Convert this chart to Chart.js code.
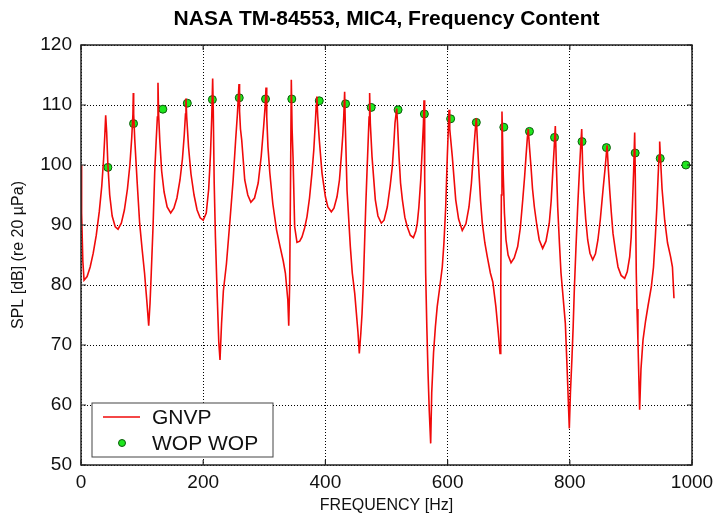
<!DOCTYPE html>

<html>
  <head>
    <title>NASA TM-84553, MIC4 - frequency content</title>

    <script src="https://cdn.jsdelivr.net/npm/chart.js@^4"></script>

    <style>
      body {
        margin: 0;
        background: white;
      }
    </style>
  </head>
  <body>
    <canvas id="graph-spl" width="715" height="518"></canvas>

    <script>
      const chartTitle = "NASA TM-84553, MIC4, Frequency Content"
      const xTitle = "FREQUENCY [Hz]"
      const yTitle = "SPL [dB] (re 20 µPa)"

      const xLimits = [0, 1000]
      const yLimits = [50, 120]
      const xStep = 200
      const yStep = 10

      // GNVP prediction, [frequency Hz, SPL dB]
      const gnvp = [
        [0, 100], [1, 92], [3, 84], [5, 80.8], [10, 81.4], [15, 83], [20, 85.3], [25, 88.3],
        [30, 92.3], [34, 96.5], [37, 101], [39, 105], [40.4, 108.3], [42, 105.5], [44, 100],
        [47, 95], [51, 91.5], [56, 89.7], [60.6, 89.3], [66, 90.3], [71, 92.5], [76, 96],
        [80, 100], [83, 104.5], [85, 108.5], [85.6, 112], [86.2, 108.5], [88, 104.2], [92, 97],
        [96, 90.3], [100, 86], [104, 82], [108, 77], [110.8, 73.2], [113, 77], [115, 82],
        [118, 90], [120.6, 98.7], [123, 104], [125, 108], [126, 113.7], [127, 108.5], [129, 104],
        [132, 99], [136, 95.5], [141, 93], [146.8, 92], [152, 92.8], [157, 94.5], [162, 97.5],
        [166, 101], [169, 105], [171, 108.5], [171.8, 111.1], [173, 108], [176, 103], [180, 98.5],
        [185, 95], [190, 92.5], [195, 91.2], [200, 90.8], [205, 92], [209, 96], [212, 102],
        [214, 108], [215.5, 114.4], [216.5, 109], [218, 97], [220, 88], [223, 78], [225.5, 70.5],
        [227.5, 67.5], [230, 73.5], [233, 79], [238, 83.5], [244, 91], [249, 97.5], [253, 104],
        [256, 108.5], [258.6, 113.5], [259.5, 109], [261, 106], [263, 104.2], [268, 97.5],
        [273, 95], [278, 93.8], [284, 94.5], [290, 97], [295, 101.5], [299, 106.5], [301.5, 110],
        [302.8, 112.9], [304, 108], [306, 103], [309, 98.7], [314, 93.5], [320, 89.2], [326, 86.3],
        [331, 84], [334.5, 82], [338.5, 77.5], [340, 73.2], [341.5, 80], [343, 98], [344.2, 114.2],
        [345.5, 106], [347, 101.4], [349.7, 89.7], [353.5, 87.1], [358, 87.3], [361.7, 88],
        [366, 89.5], [369.9, 91.4], [374, 94.5], [378, 98.7], [381, 102.5], [383.5, 107],
        [385, 110], [386, 111.4], [387.5, 108], [390, 104.2], [394.4, 98.7], [400, 94.7],
        [404, 93], [409.7, 92.2], [414, 92.8], [419, 94.7], [423, 97.5], [426, 101.4],
        [428.5, 105], [430, 108], [431.5, 112.2], [432.5, 107], [435.4, 95.8], [440.8, 86.4],
        [444, 82], [448, 78.6], [453.4, 72], [455.5, 68.6], [458, 72], [460, 75.3], [462, 80],
        [464.3, 87.5], [466, 93], [468, 98.6], [470, 104], [471.5, 108], [472.4, 112],
        [473.5, 107], [476.3, 101.4], [481.7, 94.2], [486, 91.5], [491.5, 90.3], [496, 90.8],
        [501.3, 93], [506, 96.5], [509.5, 99.7], [512, 103.5], [513.9, 107], [516.7, 109.4],
        [518, 107], [520.5, 101.4], [523, 97], [526, 94.2], [530, 91.3], [534, 89.7], [539, 88.3],
        [544, 87.9], [548, 89], [550.4, 90.3], [553, 93], [556, 97.5], [559.2, 104.2], [560.5, 107],
        [561.4, 110.8], [562.5, 98], [564.1, 82], [566, 73], [568, 65.3], [570, 59], [572.3, 53.6],
        [574, 62], [577, 68.7], [580, 73], [583, 76.4], [587, 79.5], [591.3, 83], [594, 87],
        [596.9, 93], [599.5, 101.4], [601, 105.5], [602.3, 109.2], [603.5, 106], [607.7, 101.4],
        [613.3, 94.2], [618, 91], [624, 89.1], [630, 90.2], [635, 93], [639, 97], [642, 101.4],
        [645, 105.5], [647, 107.8], [649, 103.5], [651.4, 98.6], [654, 94], [656.8, 90.3],
        [661, 87], [665, 84.7], [670, 82], [674, 80.5], [679, 76.4], [683, 72], [685.8, 68.6],
        [687, 80], [688, 95], [689, 108.9], [690, 104], [691, 98.6], [693, 92], [695.6, 87.5],
        [699, 85], [703.8, 83.7], [709, 84.5], [714.7, 86.4], [719, 89.5], [723, 94.2], [726, 98],
        [728.3, 101.4], [730.5, 104.5], [732, 106], [734, 103], [736.5, 99.7], [739, 96],
        [742, 93], [746, 90], [750, 87.5], [755.6, 86.1], [761, 87.3], [766.4, 90.3], [769.5, 94],
        [772, 98.6], [774.5, 103], [776.3, 106.5], [778, 100], [780.2, 93], [783, 87],
        [785.6, 82], [789, 78], [792.7, 73.6], [796, 65], [799.2, 56.1], [801, 62], [803.6, 68],
        [805.5, 73], [807.4, 79.2], [810, 86], [812.9, 93], [815.5, 98.5], [817.5, 102.5],
        [819.5, 106], [821, 100], [822.7, 95.8], [826, 91], [829.3, 87.5], [833, 85.3],
        [837.5, 84.2], [842, 85.2], [846, 87.5], [850, 91], [854.3, 95.8], [858, 99.7],
        [861, 103.3], [863, 99.5], [865.3, 95.8], [868, 92], [870.7, 88.6], [875, 85.5],
        [878.9, 83], [884, 81.6], [889.8, 81.1], [894, 82.2], [898, 84.7], [900.5, 88],
        [902.4, 93], [904.5, 99], [906.2, 105.4], [907.2, 98], [908.8, 82], [910, 76],
        [911.5, 70.8], [914.3, 59.2], [916.5, 66], [919.8, 70.8], [924, 74], [928, 76.5],
        [933.4, 79.7], [937, 83], [940, 88], [942.5, 93], [944.5, 98], [946, 101.5],
        [947.1, 103.9], [948.5, 101], [951, 96], [955.3, 90.8], [960, 87], [965, 84.7],
        [968, 83], [970.5, 77.8],
      ]

      // WOP WOP tones at the blade passage harmonics
      const wopHz = [
        44, 86, 134, 174, 215, 259, 302, 345, 390, 433, 475, 519,
        562, 605, 647, 692, 734, 775, 820, 860, 907, 948, 990,
      ]
      const wopSpl = [
        99.6, 106.9, 109.3, 110.3, 110.9, 111.2, 111.0, 111.0, 110.7, 110.2, 109.6, 109.2,
        108.5, 107.7, 107.1, 106.3, 105.6, 104.6, 103.9, 102.9, 102.0, 101.1, 100.0,
      ]

      const font = "'Liberation Sans', Arial, Helvetica, sans-serif"

      // frame, inward tick marks, title and the boxed legend, matlab style
      const matlabDecor = {
        id: "matlabDecor",
        afterDraw(chart) {
          const { ctx, chartArea: area, scales } = chart
          ctx.save()

          ctx.strokeStyle = "#222"
          ctx.lineWidth = 1.2
          ctx.setLineDash([])
          ctx.beginPath()
          scales.x.ticks.forEach(t => {
            const px = scales.x.getPixelForValue(t.value)
            ctx.moveTo(px, area.bottom); ctx.lineTo(px, area.bottom - 5)
            ctx.moveTo(px, area.top); ctx.lineTo(px, area.top + 5)
          })
          scales.y.ticks.forEach(t => {
            const py = scales.y.getPixelForValue(t.value)
            ctx.moveTo(area.left, py); ctx.lineTo(area.left + 5, py)
            ctx.moveTo(area.right, py); ctx.lineTo(area.right - 5, py)
          })
          ctx.stroke()
          ctx.lineWidth = 1.5
          ctx.strokeRect(area.left, area.top, area.right - area.left, area.bottom - area.top)

          ctx.fillStyle = "#000"
          ctx.font = `bold 21px ${font}`
          ctx.textAlign = "center"
          ctx.textBaseline = "middle"
          ctx.fillText(chartTitle, (area.left + area.right) / 2, 19)

          // legend box, lower left of the plot
          const box = { x: area.left + 11, y: area.bottom - 62, w: 181, h: 54 }
          ctx.fillStyle = "white"
          ctx.fillRect(box.x, box.y, box.w, box.h)
          ctx.strokeStyle = "#444"
          ctx.lineWidth = 1
          ctx.strokeRect(box.x, box.y, box.w, box.h)

          ctx.font = `21px ${font}`
          ctx.textAlign = "left"
          chart.data.datasets.forEach((ds, i) => {
            const cy = box.y + 14 + i * 26
            if (ds.showLine) {
              ctx.strokeStyle = ds.borderColor
              ctx.lineWidth = ds.borderWidth
              ctx.beginPath()
              ctx.moveTo(box.x + 11, cy)
              ctx.lineTo(box.x + 48, cy)
              ctx.stroke()
            } else {
              ctx.fillStyle = ds.pointBackgroundColor
              ctx.strokeStyle = ds.pointBorderColor
              ctx.lineWidth = 1
              ctx.beginPath()
              ctx.arc(box.x + 30, cy, 3.5, 0, Math.PI * 2)
              ctx.fill()
              ctx.stroke()
            }
            ctx.fillStyle = "#111"
            ctx.fillText(ds.label, box.x + 60, cy + 1)
          })

          ctx.restore()
        },
      }

      new Chart(document.getElementById("graph-spl"), {
        type: "scatter",
        data: {
          datasets: [
            {
              label: "GNVP",
              data: gnvp.map(([hz, spl]) => ({ x: hz, y: spl })),
              showLine: true,
              borderColor: "#f00a0a",
              borderWidth: 1.6,
              pointRadius: 0,
              tension: 0,
            },
            {
              label: "WOP WOP",
              data: wopHz.map((hz, i) => ({ x: hz, y: wopSpl[i] })),
              showLine: false,
              pointRadius: 4,
              pointBackgroundColor: "#1ee61e",
              pointBorderColor: "#0c5a0c",
              pointBorderWidth: 1,
              clip: false,
            },
          ],
        },
        options: {
          responsive: false,
          animation: false,
          layout: {
            padding: { top: 45, right: 23, bottom: 0, left: 0 },
          },
          plugins: {
            legend: { display: false },
            title: { display: false },
            tooltip: { enabled: false },
          },
          scales: {
            x: {
              type: "linear",
              min: xLimits[0],
              max: xLimits[1],
              ticks: {
                stepSize: xStep,
                padding: 6,
                color: "#111",
                font: { family: font, size: 19 },
                callback: value => String(value),
              },
              grid: {
                color: "#000",
                lineWidth: 1,
                drawTicks: false,
              },
              border: { display: false, dash: [1, 2] },
              title: {
                display: true,
                text: xTitle,
                color: "#111",
                font: { family: font, size: 16 },
                padding: { top: 0, bottom: 3 },
              },
              afterFit(scale) {
                scale.height = 53
                scale.paddingLeft = 0
                scale.paddingRight = 0
              },
            },
            y: {
              min: yLimits[0],
              max: yLimits[1],
              ticks: {
                stepSize: yStep,
                padding: 9,
                color: "#111",
                font: { family: font, size: 19 },
              },
              grid: {
                color: "#000",
                lineWidth: 1,
                drawTicks: false,
              },
              border: { display: false, dash: [1, 2] },
              title: {
                display: true,
                text: yTitle,
                color: "#111",
                font: { family: font, size: 16 },
                padding: { top: 9, bottom: 0 },
              },
              afterFit(scale) { scale.width = 81 },
            },
          },
        },
        plugins: [matlabDecor],
      })
    </script>
  </body>
</html>
